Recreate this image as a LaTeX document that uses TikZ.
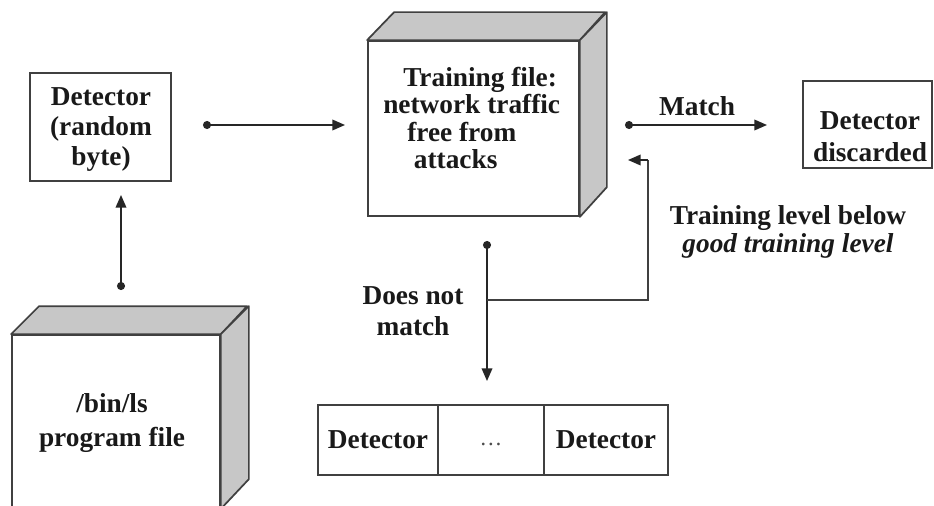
\documentclass[tikz,border=0pt]{standalone}
\usepackage{fontspec}
\setmainfont{Liberation Serif}
\usetikzlibrary{arrows.meta}
\begin{document}
\begin{tikzpicture}[x=0.75pt,y=-0.75pt,
  lbl/.style={font=\bfseries\fontsize{20.5}{20.5}\selectfont, align=center, inner sep=0pt, text=black!90},
  box/.style={draw=black!75, line width=1.5pt, fill=white, inner sep=0pt},
  face/.style={draw=black!75, line width=1.3pt, fill=white, inner sep=0pt},
  side/.style={draw=black!75, line width=1.3pt, fill=black!22, line join=round},
  conn/.style={line width=1.1pt, draw=black!85, {Circle[length=6pt]}-{Triangle[length=9.5pt,width=8pt]}},
  plain/.style={line width=1.1pt, draw=black!85, -{Triangle[length=9.5pt,width=8pt]}},
  seg/.style={line width=1.1pt, draw=black!75}
]
\useasboundingbox[fill=white] (0,0) rectangle (934,506);

% Detector (random byte)
\node[box, minimum width=105.75pt, minimum height=81pt] (det) at (100.5,127) {};
\node[lbl, font=\bfseries\fontsize{20.5}{22.5}\selectfont] (dett) at (101,130) {Detector\\(random\\byte)};

% Training file cube
\node[face, minimum width=158.25pt, minimum height=131.25pt] (train) at (473.5,128.5) {};
\draw[side] (train.north west) -- ++(27,-28) -- ++(211,0) -- (train.north east) -- cycle;
\draw[side] (train.north east) -- ++(27,-28) -- ++(0,175) -- (train.south east) -- cycle;
\node[lbl, align=left, anchor=west] (traint) at (383,118) {\hspace*{15pt}Training file:\\network traffic\\\hspace*{18pt}free from\\\hspace*{23pt}attacks};

% /bin/ls cube
\node[face, minimum width=156pt, minimum height=129.75pt] (bin) at (116,421.5) {};
\draw[side] (bin.north west) -- ++(28,-28) -- ++(208,0) -- (bin.north east) -- cycle;
\draw[side] (bin.north east) -- ++(28,-28) -- ++(0,173) -- (bin.south east) -- cycle;
\node[lbl, font=\bfseries\fontsize{20.5}{26}\selectfont] (bint) at (112,423) {/bin/ls\\program file};

% Detector discarded
\node[box, minimum width=96.75pt, minimum height=65.25pt] (disc) at (867.5,124.5) {};
\node[lbl, font=\bfseries\fontsize{20.5}{24}\selectfont] (disct) at (870,137) {Detector\\discarded};

% Detector list
\node[box, minimum width=90pt, minimum height=52.5pt] (l1) at (378,440) {};
\node[box, minimum width=79.5pt, minimum height=52.5pt] (l2) at (491,440) {};
\node[box, minimum width=93pt, minimum height=52.5pt] (l3) at (606,440) {};
\node[lbl] (l1t) at (l1) {Detector};
\node[font=\fontsize{17}{20}\selectfont, text=black!70, inner sep=0pt] (l2t) at (491,444) {\dots};
\node[lbl] (l3t) at (l3) {Detector};

% labels
\node[lbl] (match) at (697,106) {Match};
\node[lbl, font=\bfseries\fontsize{20.5}{21.5}\selectfont] (below) at (788,232) {Training level below\\\textit{good training level}};
\node[lbl, font=\bfseries\fontsize{20.5}{23}\selectfont] (nomatch) at (413,311) {Does not\\match};

% connector points
\coordinate (a1s) at (203,125);
\coordinate (a1e) at (345,125);
\coordinate (a2s) at (121,290);
\coordinate (a2e) at (121,195);
\coordinate (a3s) at (625,125);
\coordinate (a3e) at (767,125);
\coordinate (a4s) at (487,241);
\coordinate (a4e) at (487,381);
\coordinate (jn) at (487,300);
\coordinate (fbc) at (648,160);
\coordinate (fbe) at (628,160);

\draw[conn] (a1s) -- (a1e);
\draw[conn] (a2s) -- (a2e);
\draw[conn] (a3s) -- (a3e);
\draw[conn] (a4s) -- (a4e);
\draw[seg] (jn) -| (fbc);
\draw[plain] (fbc) -- (fbe);
\end{tikzpicture}
\end{document}
